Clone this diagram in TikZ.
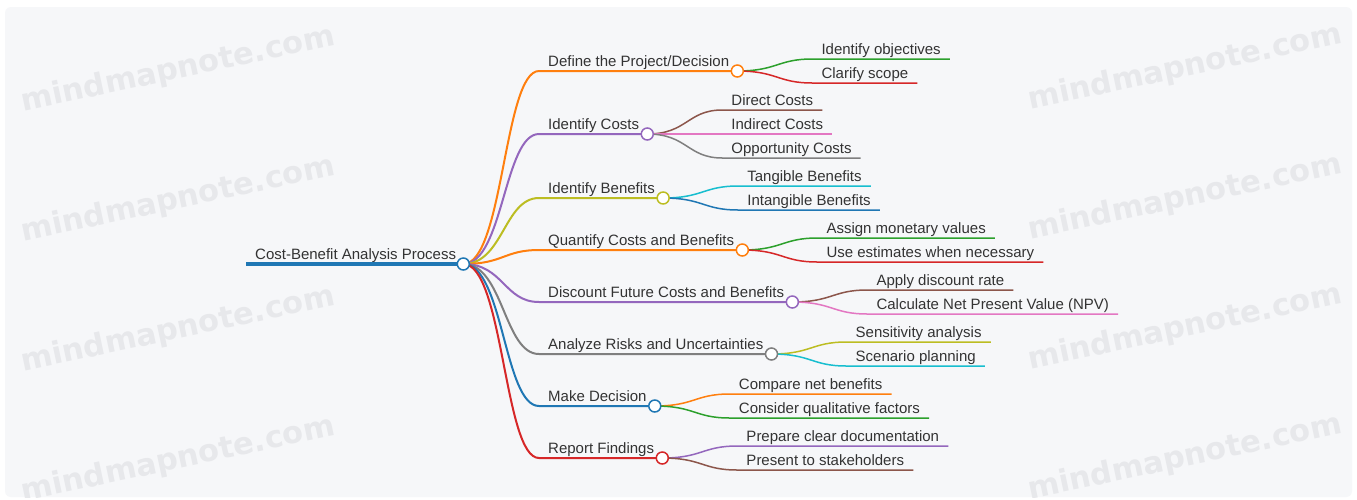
\documentclass[tikz,border=0pt]{standalone}
\usepackage{fontspec}
\setmainfont{Liberation Sans}
\newfontfamily\wmfont{DejaVu Sans}
\definecolor{cBlue}{HTML}{1F77B4}
\definecolor{cOrange}{HTML}{FF7F0E}
\definecolor{cGreen}{HTML}{2CA02C}
\definecolor{cRed}{HTML}{D62728}
\definecolor{cPurple}{HTML}{9467BD}
\definecolor{cBrown}{HTML}{8C564B}
\definecolor{cPink}{HTML}{E377C2}
\definecolor{cGray}{HTML}{7F7F7F}
\definecolor{cOlive}{HTML}{BCBD22}
\definecolor{cCyan}{HTML}{17BECF}
\definecolor{ink}{HTML}{333333}
\definecolor{cardbg}{HTML}{F6F7F9}
\definecolor{wmgray}{HTML}{E7E8EB}
\begin{document}
\begin{tikzpicture}[x=1pt,y=-1pt,
  nodetext/.style={font=\fontsize{15}{18}\selectfont, text=ink, inner xsep=9pt,
    inner ysep=4pt, text height=11pt, text depth=0pt, anchor=south west},
  roottext/.style={nodetext, inner ysep=4.5pt},
  knob/.style={circle, fill=white, line width=1.5pt, minimum size=12pt, inner sep=0pt},
  trunk/.style={line width=2pt},
  twig/.style={line width=1.5pt},
  wm/.style={font=\wmfont\bfseries\fontsize{30.5}{32}\selectfont, text=wmgray, rotate=12}
]
\useasboundingbox (0,0) rectangle (1357,499);
\fill[white] (0,0) rectangle (1357,499);
\fill[cardbg, rounded corners=6pt] (5,7) rectangle (1352,497);

% watermark grid
\begin{scope}
  \clip[rounded corners=6pt] (5,7) rectangle (1352,497);
  \foreach \wy [count=\i] in {70,200,330,460} {
    \node[wm] (wl\i) at (178,\wy) {mindmapnote.com};
    \node[wm] (wr\i) at (1185,\wy-2) {mindmapnote.com};
  }
\end{scope}

% root
\node[roottext] (rt) at (246,264) {Cost-Benefit Analysis Process};
\draw[line width=4pt, cBlue] (rt.south west) -- (rt.south east);

% first level
\node[nodetext] (a) at (539,71)  {Define the Project/Decision};
\node[nodetext] (b) at (539,134) {Identify Costs};
\node[nodetext] (c) at (539,198) {Identify Benefits};
\node[nodetext] (d) at (539,250) {Quantify Costs and Benefits};
\node[nodetext] (e) at (539,302) {Discount Future Costs and Benefits};
\node[nodetext] (f) at (539,354) {Analyze Risks and Uncertainties};
\node[nodetext] (g) at (539,406) {Make Decision};
\node[nodetext] (h) at (539,458) {Report Findings};

\coordinate (rpos) at ([xshift=-2pt]rt.south east);
\foreach \n/\col in {a/cOrange,b/cPurple,c/cOlive,d/cOrange,e/cPurple,f/cGray,g/cBlue,h/cRed} {
  \coordinate (k\n pos) at ([xshift=-1pt]\n.south east);
  \draw[trunk, \col] (rpos) .. controls +(40,0) and +(-35,0) .. (\n.south west) -- (k\n pos);
}

% second level
\node[nodetext] (a1) at ([shift={(75,-12)}]kapos) {Identify objectives};
\node[nodetext] (a2) at ([shift={(75,12)}]kapos)  {Clarify scope};
\node[nodetext] (b1) at ([shift={(75,-24)}]kbpos) {Direct Costs};
\node[nodetext] (b2) at ([shift={(75,0)}]kbpos)   {Indirect Costs};
\node[nodetext] (b3) at ([shift={(75,24)}]kbpos)  {Opportunity Costs};
\node[nodetext] (c1) at ([shift={(75,-12)}]kcpos) {Tangible Benefits};
\node[nodetext] (c2) at ([shift={(75,12)}]kcpos)  {Intangible Benefits};
\node[nodetext] (d1) at ([shift={(75,-12)}]kdpos) {Assign monetary values};
\node[nodetext] (d2) at ([shift={(75,12)}]kdpos)  {Use estimates when necessary};
\node[nodetext] (e1) at ([shift={(75,-12)}]kepos) {Apply discount rate};
\node[nodetext] (e2) at ([shift={(75,12)}]kepos)  {Calculate Net Present Value (NPV)};
\node[nodetext] (f1) at ([shift={(75,-12)}]kfpos) {Sensitivity analysis};
\node[nodetext] (f2) at ([shift={(75,12)}]kfpos)  {Scenario planning};
\node[nodetext] (g1) at ([shift={(75,-12)}]kgpos) {Compare net benefits};
\node[nodetext] (g2) at ([shift={(75,12)}]kgpos)  {Consider qualitative factors};
\node[nodetext] (h1) at ([shift={(75,-12)}]khpos) {Prepare clear documentation};
\node[nodetext] (h2) at ([shift={(75,12)}]khpos)  {Present to stakeholders};

\foreach \p/\n/\col in {
  a/a1/cGreen, a/a2/cRed,
  b/b1/cBrown, b/b2/cPink, b/b3/cGray,
  c/c1/cCyan, c/c2/cBlue,
  d/d1/cGreen, d/d2/cRed,
  e/e1/cBrown, e/e2/cPink,
  f/f1/cOlive, f/f2/cCyan,
  g/g1/cOrange, g/g2/cGreen,
  h/h1/cPurple, h/h2/cBrown} {
  \draw[twig, \col] (k\p pos) .. controls +(40,0) and +(-35,0) .. (\n.south west) -- (\n.south east);
}

% knobs drawn over the line ends
\foreach \n/\col in {a/cOrange,b/cPurple,c/cOlive,d/cOrange,e/cPurple,f/cGray,g/cBlue,h/cRed} {
  \node[knob, draw=\col] (k\n) at (k\n pos) {};
}
\node[knob, draw=cBlue] (r) at (rpos) {};
\end{tikzpicture}
\end{document}
